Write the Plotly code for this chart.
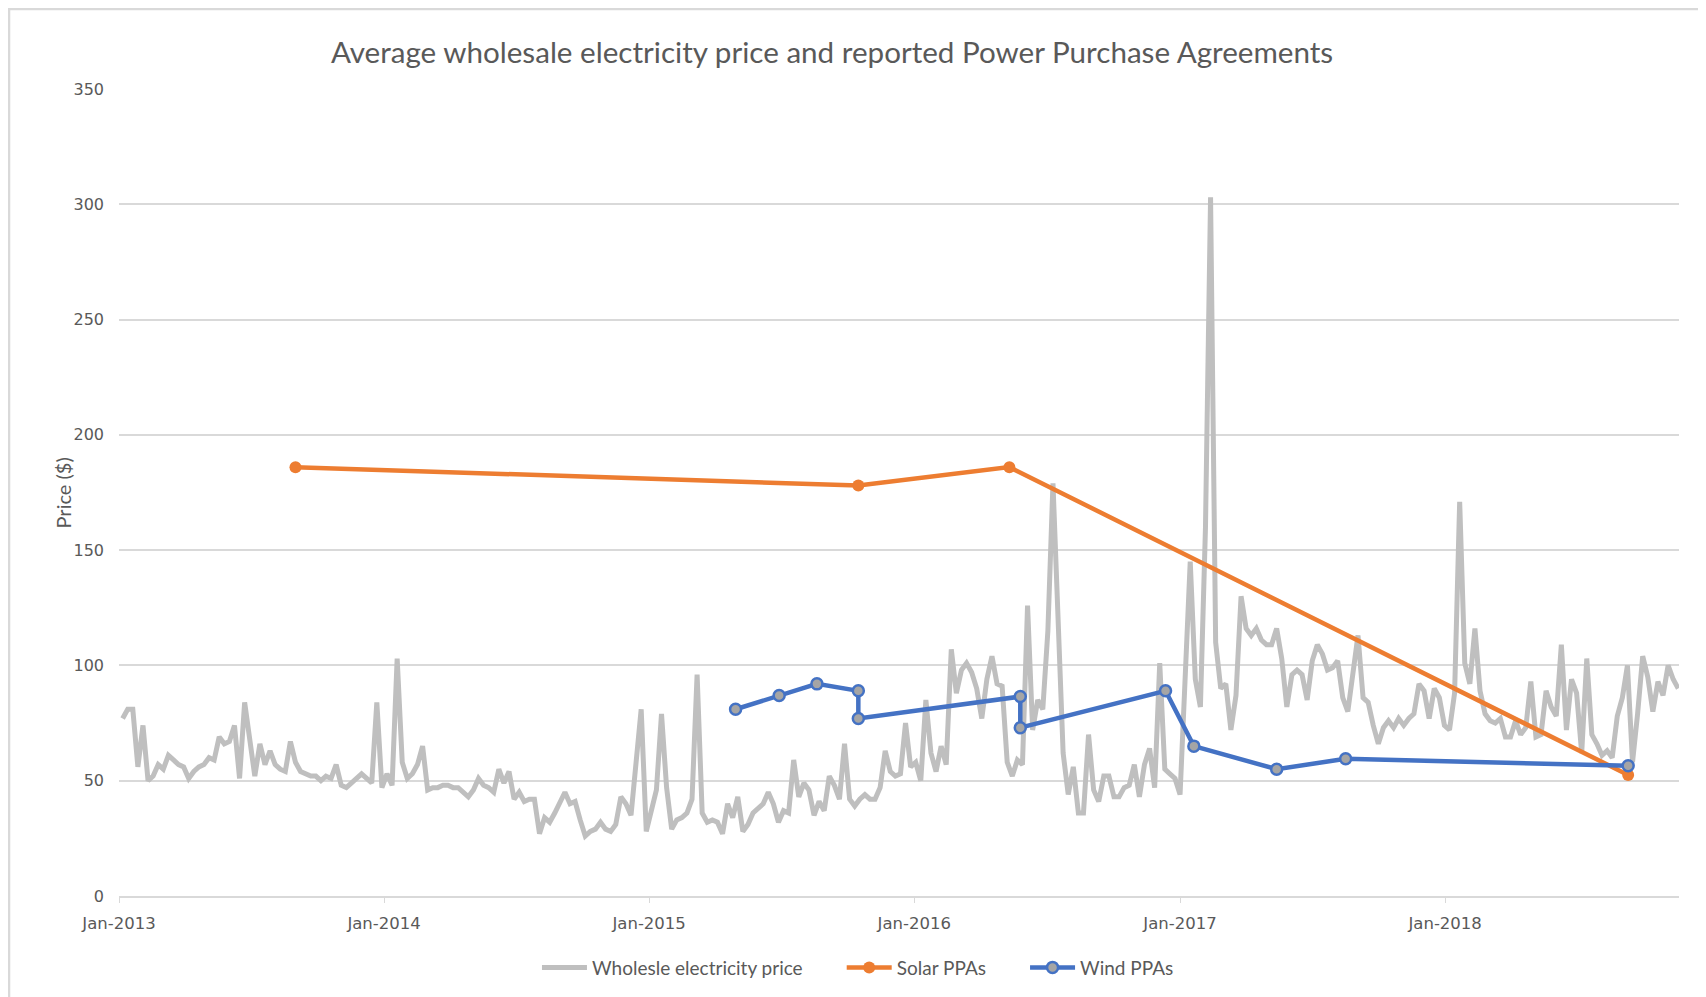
import pandas as pd
import plotly.graph_objects as go

# Weekly average wholesale price, first week of Jan 2013 to Nov 2018
first_week = "2013-01-06"
wholesale_price = [
    77, 81, 81, 56, 74, 50, 52, 57, 55, 61, 59, 57, 56, 51, 54, 56, 57, 60, 59, 69,
    66, 67, 74, 51, 84, 67, 52, 66, 57, 63, 57, 55, 54, 67, 58, 54, 53, 52, 52, 50,
    52, 51, 57, 48, 47, 49, 51, 53, 51, 49, 84, 47, 53,
    48, 103, 58, 51, 53, 57, 65, 46, 47, 47, 48, 48, 47, 47, 45, 43, 46, 51, 48, 47,
    45, 55, 49, 54, 42, 45, 41, 42, 42, 27, 34, 32, 36, 41, 45, 40, 41, 33, 26, 28,
    29, 32, 29, 28, 31, 43, 40, 35, 58, 81, 28, 37,
    46, 79, 47, 29, 33, 34, 36, 42, 96, 36, 32, 33, 32, 27, 40, 34, 43, 28, 31, 36,
    38, 40, 45, 40, 32, 37, 36, 59, 43, 49, 46, 35, 41, 37, 52, 48, 42, 66, 42, 39,
    42, 44, 42, 42, 47, 63, 54, 52, 53, 75, 56, 58, 50,
    85, 62, 54, 65, 57, 107, 88, 98, 101, 97, 90, 77, 94, 104, 92, 91, 58, 52, 59, 57,
    126, 72, 85, 81, 115, 179, 117, 62, 44, 56, 36, 36, 70, 46, 41, 52, 52, 43, 43, 47,
    48, 57, 43, 57, 64, 47, 101, 55, 53, 51, 44,
    95, 145, 94, 82, 160, 303, 110, 90, 92, 72, 87, 130, 116, 113, 116, 111, 109, 109, 116, 103,
    82, 96, 98, 96, 85, 102, 109, 105, 98, 99, 102, 86, 80, 98, 113, 86, 84, 74, 66, 73,
    76, 73, 77, 74, 77, 79, 92, 89, 77, 90, 86, 74, 72,
    88, 171, 101, 92, 116, 89, 79, 76, 75, 77, 69, 69, 76, 70, 73, 93, 69, 70, 89, 82,
    78, 109, 72, 94, 88, 62, 103, 70, 66, 61, 63, 60, 78, 86, 100, 58, 79, 104, 95, 80,
    93, 87, 100, 94, 90,
]
week_dates = pd.date_range(first_week, periods=len(wholesale_price), freq="7D")

solar_dates = ["2013-09-01", "2015-10-16", "2016-05-11", "2018-09-10"]
solar_ppa = [186, 178, 186, 52.5]

wind_dates = ["2015-04-30", "2015-06-29", "2015-08-20", "2015-10-16", "2015-10-16",
              "2016-05-26", "2016-05-26", "2016-12-12", "2017-01-20", "2017-05-14",
              "2017-08-17", "2018-09-10"]
wind_ppa = [81, 87, 92, 89, 77, 86.5, 73, 89, 65, 55, 59.5, 56.5]

TXT = "#595959"
GRID = "#D9D9D9"
GAP = "\u00a0" * 7  # extra room between legend entries

fig = go.Figure()
fig.add_trace(go.Scatter(
    x=week_dates, y=wholesale_price, mode="lines",
    name="Wholesle electricity price" + GAP,
    line=dict(color="#BFBFBF", width=5),
))
fig.add_trace(go.Scatter(
    x=solar_dates, y=solar_ppa, mode="lines+markers",
    name="Solar PPAs" + GAP,
    line=dict(color="#ED7D31", width=4.5),
    marker=dict(size=12, color="#ED7D31"),
))
fig.add_trace(go.Scatter(
    x=wind_dates, y=wind_ppa, mode="lines+markers",
    name="Wind PPAs",
    line=dict(color="#4472C4", width=4.5),
    marker=dict(size=11, color="#A5A5A5", line=dict(color="#4472C4", width=2.5)),
))

fig.update_xaxes(
    type="date",
    range=["2013-01-01", "2018-11-19"],
    tick0="2013-01-01", dtick="M12", tickformat="%b-%Y",
    showgrid=False, showline=True, linecolor=GRID, linewidth=1.5,
    ticks="outside", ticklen=5, tickcolor=GRID,
    tickfont=dict(family="DejaVu Sans", size=16.5, color=TXT),
    ticklabelstandoff=6,
)
fig.update_yaxes(
    range=[0, 350], dtick=50,
    showgrid=True, gridcolor=GRID, gridwidth=1.5,
    zeroline=False, showline=False,
    tickfont=dict(family="DejaVu Sans", size=16, color=TXT),
    ticklabelstandoff=14,
)

# page body adds 8px margin, so the figure is 8px smaller than the window
fig.update_layout(
    width=1698, height=989,
    margin=dict(l=111, r=27, t=81, b=100),
    paper_bgcolor="white", plot_bgcolor="white",
    title=dict(
        text="Average wholesale electricity price and reported Power Purchase Agreements",
        x=0.4853, xanchor="center", xref="container",
        y=1 - 45 / 989, yanchor="middle", yref="container",
        font=dict(family="Lato", size=29.6, color=TXT),
    ),
    legend=dict(
        orientation="h", x=0.4737, xanchor="center", y=-0.0873, yanchor="middle",
        font=dict(family="Lato", size=19, color=TXT),
        itemwidth=45,
    ),
    annotations=[dict(
        text="Price ($)", textangle=-90, x=-0.0449, y=0.5,
        xref="paper", yref="paper", showarrow=False,
        font=dict(family="Lato", size=20, color=TXT),
    )],
    shapes=[dict(
        type="rect", xref="paper", yref="paper",
        x0=-0.0705, x1=1.0147, y0=-0.14, y1=1.099,
        line=dict(color=GRID, width=2.5),
    )],
)

fig.write_html("out.html")
